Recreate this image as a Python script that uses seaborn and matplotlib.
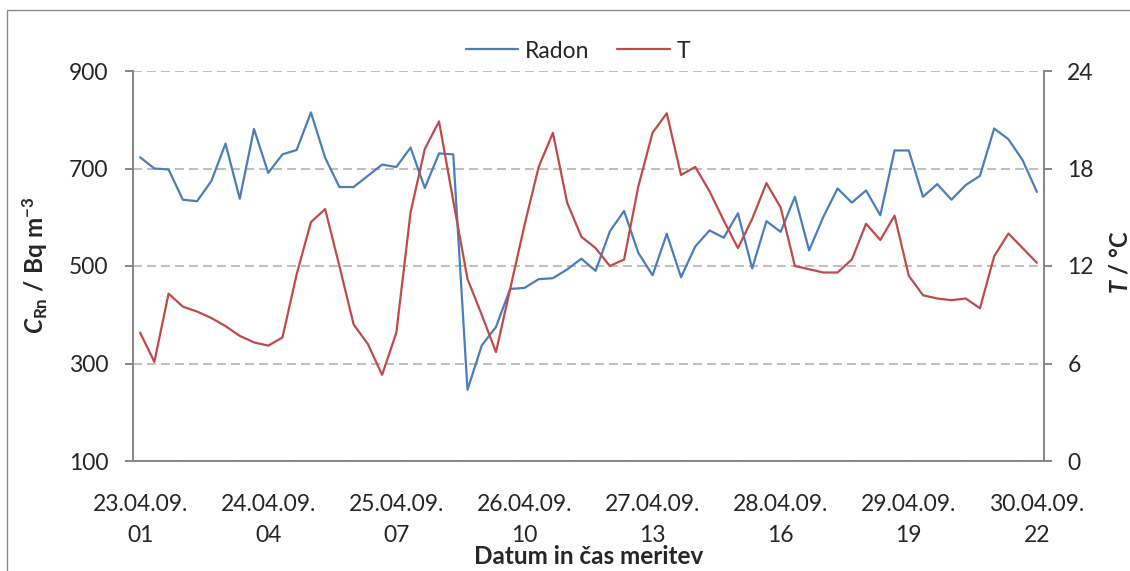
import numpy as np
import pandas as pd
import matplotlib
matplotlib.use("Agg")
import matplotlib.pyplot as plt
from matplotlib.patches import Rectangle
import seaborn as sns

# Measurements every 3 hours, 23.04.2009 01h to 30.04.2009 22h
radon = [723, 700, 698, 636, 633, 674, 751, 638, 781, 691,
         729, 738, 815, 722, 662, 662, 685, 708, 703, 743,
         660, 731, 729, 246, 337, 375, 453, 455, 473, 475,
         493, 515, 490, 571, 613, 527, 481, 566, 477, 540,
         573, 558, 608, 495, 592, 570, 642, 532, 601, 659,
         630, 655, 604, 737, 737, 642, 668, 636, 666, 685,
         782, 760, 717, 652]
temperature = [7.9, 6.1, 10.3, 9.5, 9.2, 8.8, 8.3, 7.7, 7.3, 7.1,
               7.6, 11.5, 14.7, 15.5, 12.0, 8.4, 7.2, 5.3, 7.9, 15.3,
               19.2, 20.9, 16.0, 11.2, 9.0, 6.7, 10.6, 14.5, 18.1, 20.2,
               15.9, 13.8, 13.1, 12.0, 12.4, 16.9, 20.2, 21.4, 17.6, 18.1,
               16.6, 14.8, 13.1, 14.9, 17.1, 15.6, 12.0, 11.8, 11.6, 11.6,
               12.4, 14.6, 13.6, 15.1, 11.4, 10.2, 10.0, 9.9, 10.0, 9.4,
               12.6, 14.0, 13.1, 12.2]
tick_dates = ["23.04.09.", "24.04.09.", "25.04.09.", "26.04.09.",
              "27.04.09.", "28.04.09.", "29.04.09.", "30.04.09."]
tick_hours = ["01", "04", "07", "10", "13", "16", "19", "22"]
radon_ticks = [100, 300, 500, 700, 900]
temp_ticks = [0, 6, 12, 18, 24]

df = pd.DataFrame({"idx": np.arange(len(radon)), "Radon": radon, "T": temperature})

sns.set_style("white")
plt.rcParams["font.family"] = ["Lato", "DejaVu Sans"]
plt.rcParams["mathtext.fontset"] = "custom"
plt.rcParams["mathtext.rm"] = "Lato"
plt.rcParams["mathtext.it"] = "Lato:italic:bold"
plt.rcParams["mathtext.bf"] = "Lato:bold"
plt.rcParams["mathtext.bfit"] = "Lato:italic:bold"

W, H = 1130, 571
BLUE = "#4A7EBB"
RED = "#BE4B48"
GREY = "#868686"
FS = 16.5

fig = plt.figure(figsize=(W / 100, H / 100), dpi=100)
fig.patches.append(Rectangle((6.5 / W, -0.1), 1.2, 1.1 - 10 / H,
                             transform=fig.transFigure, fill=False,
                             edgecolor="#898989", lw=1.0))

ax = fig.add_axes([133 / W, 1 - 461 / H, 911 / W, 390 / H])
ax2 = ax.twinx()

sns.lineplot(data=df, x="idx", y="Radon", ax=ax, color=BLUE, lw=1.6, label="Radon", legend=False)
sns.lineplot(data=df, x="idx", y="T", ax=ax2, color=RED, lw=1.6, label="T", legend=False)

ax.set_xlim(-0.5, len(radon) - 0.5)
ax.set_ylim(100, 900)
ax2.set_ylim(0, 24)
ax.set_yticks(radon_ticks)
ax2.set_yticks(temp_ticks)
ax.set_xticks(np.arange(0, len(radon), 9))
ax.set_xticklabels([f"{d}\n{h}" for d, h in zip(tick_dates, tick_hours)],
                   fontsize=FS, linespacing=1.58)
ax.set_xticks(np.arange(-0.5, len(radon), 8), minor=True)
ax.tick_params(axis="x", which="major", length=0, pad=24)
ax.tick_params(axis="x", which="minor", length=5, width=1.4, color=GREY, direction="out")
ax.tick_params(axis="y", length=5.8, width=1.4, color=GREY, direction="out", pad=12, labelsize=FS)
ax2.tick_params(axis="y", length=5.8, width=1.4, color=GREY, direction="out", pad=11, labelsize=FS)
ax.set_xlabel("")
ax.set_ylabel("")
ax2.set_ylabel("")

ax.set_axisbelow(True)
ax.yaxis.grid(True, linestyle=(0, (4.6, 2.6)), color="#BFBFBF", lw=1.4)
ax.xaxis.grid(False)
ax2.grid(False)

for a in (ax, ax2):
    for s in a.spines.values():
        s.set_visible(False)
for name in ("left", "bottom"):
    ax.spines[name].set_visible(True)
    ax.spines[name].set_color(GREY)
    ax.spines[name].set_linewidth(1.4)
ax2.spines["right"].set_visible(True)
ax2.spines["right"].set_color(GREY)
ax2.spines["right"].set_linewidth(1.4)

fig.text(35 / W, 1 - 265 / H, r"$\mathit{C}_{\mathbf{Rn}}\mathbf{\ /\ Bq\ m^{-3}}$",
         rotation=90, ha="center", va="center", fontsize=17.5)
fig.text(1120 / W, 1 - 262 / H, r"$\mathit{T}\mathbf{\ /\ °C}$",
         rotation=90, ha="center", va="center", fontsize=17)
fig.text(589 / W, 1 - 556 / H, "Datum in čas meritev", fontweight="bold",
         ha="center", va="center", fontsize=17.5)

handles = [ax.get_lines()[0], ax2.get_lines()[0]]
fig.legend(handles, ["Radon", "T"], loc="center", bbox_to_anchor=(578 / W, 1 - 51 / H),
           ncol=2, frameon=False, fontsize=FS, handlelength=2.3, handletextpad=0.3,
           columnspacing=1.2)

fig.savefig("out.png", dpi=100)
